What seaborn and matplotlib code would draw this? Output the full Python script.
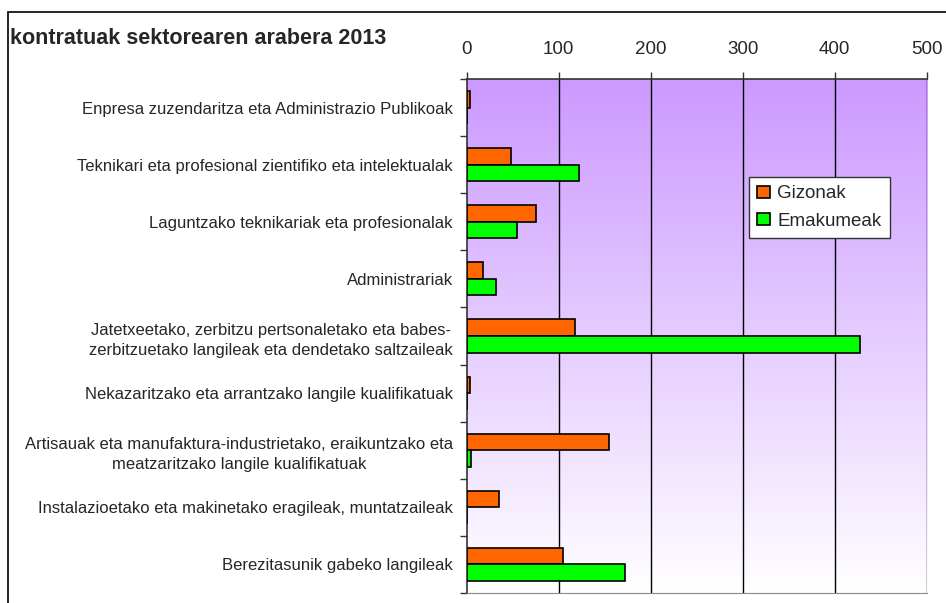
import numpy as np
import pandas as pd
import matplotlib
matplotlib.use("Agg")
import matplotlib.pyplot as plt
import seaborn as sns
from matplotlib.patches import Rectangle
from matplotlib.colors import LinearSegmentedColormap

# Data
categories = [
    "Enpresa zuzendaritza eta Administrazio Publikoak",
    "Teknikari eta profesional zientifiko eta intelektualak",
    "Laguntzako teknikariak eta profesionalak",
    "Administrariak",
    "Jatetxeetako, zerbitzu pertsonaletako eta babes-\nzerbitzuetako langileak eta dendetako saltzaileak",
    "Nekazaritzako eta arrantzako langile kualifikatuak",
    "Artisauak eta manufaktura-industrietako, eraikuntzako eta\nmeatzaritzako langile kualifikatuak",
    "Instalazioetako eta makinetako eragileak, muntatzaileak",
    "Berezitasunik gabeko langileak",
]
gizonak = [4, 48, 75, 18, 118, 4, 155, 35, 105]
emakumeak = [0, 122, 55, 32, 428, 0, 5, 0, 172]
series_names = ["Gizonak", "Emakumeak"]
x_ticks = [0, 100, 200, 300, 400, 500]
title = "kontratuak sektorearen arabera 2013"

df = pd.DataFrame({
    "sector": categories * 2,
    "value": gizonak + emakumeak,
    "sexua": [series_names[0]] * len(categories) + [series_names[1]] * len(categories),
})

sns.set_style("white")
plt.rcParams["font.family"] = ["Liberation Sans", "DejaVu Sans"]

fig = plt.figure(figsize=(9.46, 6.03), dpi=100)
ax = fig.add_axes([466.7 / 946, 1 - 593 / 603, (926.7 - 466.7) / 946, (593 - 79) / 603])

# gradient background (purple at top -> white at bottom)
cmap = LinearSegmentedColormap.from_list("bg", ["#CC99FF", "#FFFFFF"])
grad = np.linspace(0, 1, 256).reshape(-1, 1)
ax.imshow(grad, cmap=cmap, aspect="auto", extent=[0, 500, len(categories) - 0.5, -0.5],
          zorder=0, interpolation="bicubic")

sns.barplot(data=df, y="sector", x="value", hue="sexua", orient="h",
            palette=["#FF6600", "#00FF00"], width=0.58, edgecolor="black",
            linewidth=1.2, saturation=1, ax=ax, zorder=3)

ax.set_xlim(0, 500)
ax.set_ylim(len(categories) - 0.5, -0.5)
ax.set_xticks(x_ticks)
ax.xaxis.tick_top()
ax.tick_params(axis="x", top=True, bottom=False, labeltop=True, labelbottom=False,
               length=5, width=1, color="#333333", labelsize=13.5, pad=10, direction="out")
for v in x_ticks[1:]:
    ax.axvline(v, color="black", lw=1, zorder=1)

ax.set_yticks(range(len(categories)))
ax.set_yticklabels(categories, fontsize=12, multialignment="center", linespacing=1.45)
ax.tick_params(axis="y", length=0, pad=10)
ax.set_yticks(np.arange(-0.5, len(categories), 1), minor=True)
ax.tick_params(axis="y", which="minor", left=True, length=5, width=1, color="#333333")

ax.set_xlabel("")
ax.set_ylabel("")
for side in ["top", "left"]:
    ax.spines[side].set_color("#333333")
    ax.spines[side].set_linewidth(1.2)
ax.spines["bottom"].set_color("#888888")
ax.spines["right"].set_visible(False)

leg = ax.legend(loc="upper left", bbox_to_anchor=((749 - 466.7) / 460, 1 - (177 - 79) / 514),
                frameon=True, fancybox=False, edgecolor="#333333", framealpha=1,
                fontsize=13.5, handlelength=0.65, handleheight=0.65, handletextpad=0.4,
                borderpad=0.45, labelspacing=0.55, borderaxespad=0)
leg.get_frame().set_linewidth(1)

fig.text(10 / 946, 1 - 38 / 603, title, fontsize=15.5, fontweight="bold", va="center", ha="left")

# outer chart border
fig.patches.append(Rectangle((8 / 946, -0.05), 1.2, 1 - 12 / 603 + 0.05, transform=fig.transFigure,
                             fill=False, edgecolor="black", linewidth=1.2, zorder=0))

fig.savefig("out.png", dpi=100)
